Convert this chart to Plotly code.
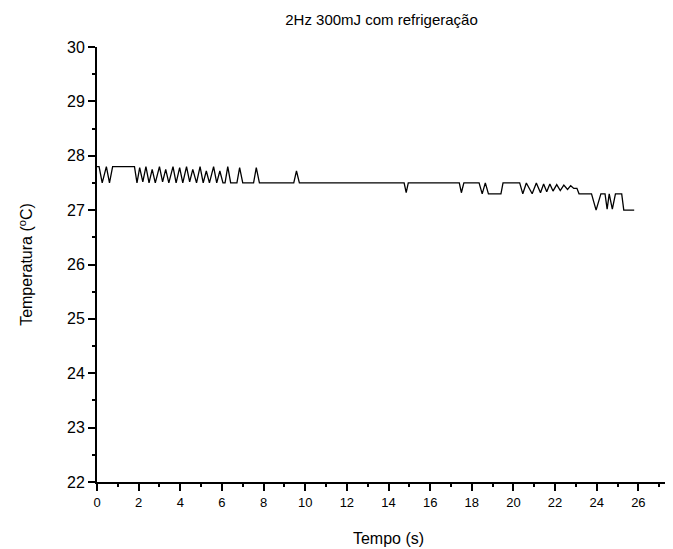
import plotly.graph_objects as go

# dados (tempo em s, temperatura em ºC)
tempo = [
    0.0, 0.1, 0.25, 0.45, 0.6, 0.75, 1.8,
    1.92, 2.05, 2.2, 2.35, 2.5, 2.65, 2.8, 3.0, 3.15, 3.3, 3.45, 3.65, 3.8,
    3.97, 4.12, 4.3, 4.45, 4.6, 4.78, 4.95, 5.1, 5.25, 5.4, 5.6, 5.75, 5.9,
    6.05, 6.15, 6.28, 6.42, 6.72, 6.85, 7.0, 7.52, 7.65, 7.8,
    9.45, 9.58, 9.72,
    14.75, 14.85, 14.95,
    17.4, 17.5, 17.62, 18.35, 18.5, 18.65, 18.8, 19.4, 19.5, 20.3,
    20.45, 20.62, 20.9, 21.1, 21.3, 21.45, 21.6, 21.75, 21.9, 22.08, 22.25,
    22.42, 22.6, 22.75, 22.9, 23.05, 23.15, 23.75,
    23.97, 24.2, 24.4, 24.5, 24.6, 24.75, 24.9, 25.2, 25.3, 25.8,
]
temperatura = [
    27.8, 27.8, 27.5, 27.8, 27.5, 27.8, 27.8,
    27.5, 27.78, 27.52, 27.8, 27.5, 27.75, 27.5, 27.8, 27.52, 27.75, 27.5, 27.8, 27.5,
    27.78, 27.5, 27.8, 27.52, 27.75, 27.5, 27.8, 27.5, 27.72, 27.5, 27.8, 27.5, 27.72,
    27.5, 27.5, 27.8, 27.5, 27.5, 27.78, 27.5, 27.5, 27.78, 27.5,
    27.5, 27.72, 27.5,
    27.5, 27.32, 27.5,
    27.5, 27.32, 27.5, 27.5, 27.3, 27.5, 27.3, 27.3, 27.5, 27.5,
    27.3, 27.5, 27.3, 27.5, 27.32, 27.48, 27.34, 27.48, 27.35, 27.47, 27.36,
    27.46, 27.38, 27.45, 27.4, 27.4, 27.3, 27.3,
    27.0, 27.3, 27.3, 27.02, 27.3, 27.02, 27.3, 27.3, 27.0, 27.0,
]

x_ticks = list(range(0, 30, 2))
y_ticks = list(range(22, 31))

fig = go.Figure()
fig.add_trace(go.Scatter(
    x=tempo,
    y=temperatura,
    mode="lines",
    line=dict(color="black", width=1.3),
    showlegend=False,
))

eixo = dict(
    showgrid=False,
    zeroline=False,
    showline=True,
    linecolor="black",
    linewidth=2,
    ticks="outside",
    tickcolor="black",
    tickwidth=2,
    ticklen=7,
)

fig.update_layout(
    width=673,
    height=549,
    paper_bgcolor="white",
    plot_bgcolor="white",
    font=dict(family="Liberation Sans, Arial", color="black"),
    title=dict(text="2Hz 300mJ com refrigeração", x=0.555, xanchor="center",
               yref="container", y=0.988, yanchor="top", font=dict(size=15)),
    margin=dict(l=89, r=1, t=39, b=75),
    xaxis=dict(
        eixo,
        range=[0, 28],
        tickvals=x_ticks,
        tickfont=dict(size=13),
        minor=dict(dtick=1, ticks="outside", ticklen=3, tickcolor="black"),
        title=dict(text="Tempo (s)", font=dict(size=16), standoff=24),
    ),
    yaxis=dict(
        eixo,
        range=[22, 30],
        tickvals=y_ticks,
        tickfont=dict(size=16),
        minor=dict(dtick=0.5, ticks="outside", ticklen=3, tickcolor="black"),
        title=dict(text="Temperatura (<sup>o</sup>C)", font=dict(size=16), standoff=30),
    ),
)

fig.write_html("out.html")
